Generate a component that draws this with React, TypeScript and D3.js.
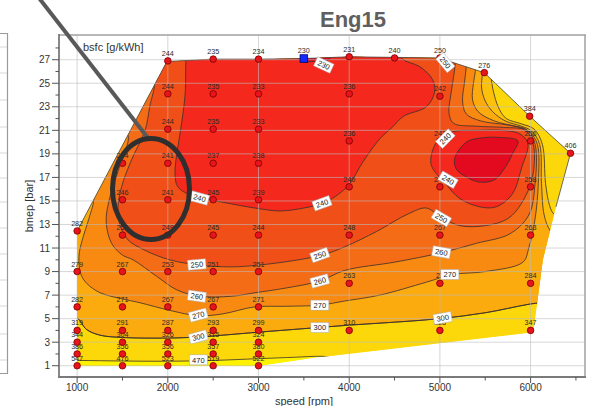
import React from "react";
import * as d3 from "d3";

type P = [number, number];

const W = 592;
const H = 406;

const xTicks = [1000, 2000, 3000, 4000, 5000, 6000];
const xMinorTicks = [1500, 2500, 3500, 4500, 5500, 6500];
const yTicks = [1, 3, 5, 7, 9, 11, 13, 15, 17, 19, 21, 23, 25, 27];
const yMinorTicks = [2, 4, 6, 8, 10, 12, 14, 16, 18, 20, 22, 24, 26, 28];

// operating envelope [speed rpm, bmep bar]
const envelope: P[] = [
  [1000, 0.95], [3000, 0.95], [3650, 1.7], [6030, 3.85], [6135, 10], [6280, 14.5], [6440, 19.05],
  [5990, 22.2], [5490, 25.9], [4990, 27.15], [4000, 27.25], [3500, 27.1], [3000, 27.05], [2500, 27.05],
  [1990, 26.85], [1000, 12.45],
];
const envelopeOutline: P[] = [
  [1000, 12.45], [1990, 26.85], [2500, 27.05], [3000, 27.05], [3500, 27.1], [4000, 27.25], [4990, 27.15],
  [5490, 25.9], [5990, 22.2], [6440, 19.05], [6280, 14.5],
];

// iso-bsfc regions (bsfc <= level)
const iso470: P[] = [
  [600, 1.45], [1000, 1.45], [1500, 1.4], [2000, 1.38], [2500, 1.45], [3000, 1.6], [3400, 1.72], [3700, 1.8],
  [4000, 1.6], [5000, 2.4], [6200, 3.4], [7000, 3.4], [7000, 30], [600, 30],
];
const iso300Lower: P[] = [
  [700, 5.4], [1000, 5.05], [1100, 4.1], [1250, 3.6], [1500, 3.4], [2000, 3.35], [2350, 3.45], [3000, 3.85],
  [3500, 4.15], [4000, 4.45], [4500, 4.7], [5000, 5.0], [5500, 5.5], [6000, 6.25], [6400, 6.7], [6600, 9],
];
const iso300Upper: P[] = [
  [6600, 13.0], [6350, 13.5], [6255, 13.9], [6210, 14.6], [6165, 16.5], [6130, 19.8], [6040, 21.1],
  [5900, 21.55], [5732, 22.0], [5658, 22.75], [5603, 23.9], [5567, 25.3], [5560, 27], [5450, 31], [700, 31],
];
const iso280Upper: P[] = [
  [6600, 11.8], [6300, 12.0], [6215, 12.5], [6150, 13.8], [6120, 16.5], [6100, 19.8], [6010, 20.95],
  [5900, 21.35], [5720, 21.8], [5580, 22.6], [5500, 23.5], [5460, 24.6], [5470, 25.95], [5480, 28.5],
  [5400, 31], [700, 31],
];
const iso270: P[] = [
  [1000, 31], [900, 20], [1100, 16.2], [1180, 15.3], [1130, 13.5], [1060, 11.8], [1020, 10.3], [1040, 8.8],
  [1106, 8.0], [1253, 7.2], [1547, 6.6], [1694, 6.35], [2024, 5.7], [2335, 5.25], [2600, 5.4], [2960, 6.0],
  [3300, 6.05], [3676, 6.15], [3951, 6.5], [4337, 7.0], [4851, 8.1], [5141, 8.75], [5500, 9.0], [5916, 9.8],
  [5980, 11.0], [6050, 13.5], [6085, 16.5], [6075, 19.8], [5990, 20.85], [5850, 21.3], [5600, 21.8],
  [5420, 22.6], [5360, 23.6], [5370, 25.0], [5390, 26.0], [5400, 28.5], [5300, 31],
];
const iso260: P[] = [
  [1450, 31], [1450, 21], [1560, 20.6], [1450, 17.5], [1360, 15.3], [1320, 13.2], [1380, 11.4], [1500, 10.4],
  [1617, 10.0], [1877, 8.6], [2098, 7.45], [2355, 6.9], [2700, 6.9], [2960, 7.2], [3300, 7.6], [3676, 8.2],
  [3951, 9.1], [4500, 9.8], [5016, 10.6], [5402, 11.4], [5770, 12.2], [5980, 13.8], [6050, 16.5],
  [6050, 19.8], [5960, 21.05], [5750, 21.45], [5450, 21.8], [5290, 22.4], [5250, 23.5], [5270, 25.0],
  [5290, 26.4], [5300, 28.5], [5200, 31],
];
const iso250: P[] = [
  [1700, 31], [1750, 26.5], [1850, 25.2], [1800, 23], [1749, 21], [1600, 18.5], [1490, 16.2], [1450, 14.5],
  [1470, 13.0], [1560, 11.7], [1750, 10.8], [2020, 10.0], [2350, 9.55], [2700, 9.4], [3000, 9.55],
  [3400, 9.95], [3700, 10.4], [3950, 11.1], [4300, 12.4], [4650, 13.9], [4850, 14.4], [5016, 13.6],
  [5220, 12.9], [5500, 12.9], [5750, 13.5], [5900, 14.8], [6020, 17.0], [6030, 19.8], [5940, 21.0],
  [5700, 21.25], [5400, 21.35], [5150, 21.6], [5100, 22.5], [5120, 24], [5150, 25.5], [5170, 26.7],
  [5180, 28.5], [5000, 31],
];
const iso240Main: P[] = [
  [2220, 31], [2220, 28.5], [2200, 27.0], [2190, 24], [2140, 21], [2090, 18.5], [2080, 17.2], [2110, 16.2],
  [2280, 15.4], [2600, 14.9], [3000, 14.35], [3240, 14.15], [3500, 14.4], [3710, 14.8], [3850, 15.4],
  [4000, 16.4], [4150, 18.3], [4340, 20.3], [4480, 21.3], [4600, 22.2], [4850, 23.0], [4940, 24.2],
  [4920, 25.3], [4780, 26.4], [4580, 27.1], [4500, 28.5], [4500, 31],
];
const iso240Island: P[] = [
  [4900, 18.2], [4990, 20.3], [5150, 20.9], [5400, 21.0], [5700, 21.0], [5880, 20.7], [5970, 19.9],
  [5900, 17.8], [5800, 15.6], [5620, 14.5], [5440, 14.5], [5220, 15.2], [5070, 16.4],
];
const iso230Island: P[] = [
  [5163, 18.6], [5291, 20.0], [5450, 20.35], [5650, 20.4], [5860, 20.1], [5800, 19.0], [5732, 18.0],
  [5600, 16.8], [5438, 16.6], [5300, 17.0], [5182, 17.7],
];
const iso230Top: P[] = [[3350, 29], [3450, 27.0], [3600, 26.85], [3780, 27.05], [3900, 29]];

const regions: P[][] = [
  iso470,
  [...iso300Lower, ...iso300Upper],
  [...iso300Lower, ...iso280Upper],
  iso270, iso260, iso250, iso240Main, iso240Island, iso230Island, iso230Top,
];
const regionColors = [
  "#fcd70a", "#fdc10c", "#fbab0e", "#f88a12", "#f56c16", "#f14f18", "#f4281c", "#f4281c", "#e30a1f", "#e30a1f",
];
const baseColor = "#fff200";

// contour labels: text, speed, bmep
const contourLabels: [string, number, number][] = [
  ["230", 3720, 26.55], ["250", 5060, 26.75], ["240", 2350, 15.25], ["240", 3700, 14.8],
  ["240", 5060, 20.3], ["240", 5090, 16.8], ["250", 2320, 9.6], ["250", 3676, 10.4], ["250", 5016, 13.55],
  ["260", 2320, 6.9], ["260", 3676, 8.2], ["260", 5016, 10.65], ["270", 2336, 5.3], ["270", 3676, 6.15],
  ["270", 5110, 8.75], ["300", 2336, 3.45], ["300", 3676, 4.25], ["300", 5030, 5.05], ["470", 2336, 1.5],
];
const contourLabelAngles = [25, 50, 15, -20, -45, 30, -5, -20, 30, 8, -15, 10, -15, 0, 0, -15, 0, -10, 0];

// measured operating points: speed, bmep, bsfc
const opPoints: [number, number, string][] = [
  [1000, 1, "547"], [1000, 2, "386"], [1000, 3, "344"], [1000, 4, "319"], [1000, 6, "282"], [1000, 9, "279"], [1000, 12.45, "282"],
  [1500, 1, "476"], [1500, 2, "356"], [1500, 3, "304"], [1500, 4, "291"], [1500, 6, "271"], [1500, 9, "267"], [1500, 12.1, "254"], [1500, 15.1, "246"], [1500, 18.2, "244"],
  [2000, 1, "523"], [2000, 2, "356"], [2000, 3, "326"], [2000, 4, "287"], [2000, 6, "267"], [2000, 9, "253"], [2000, 12.1, "249"], [2000, 15.1, "241"], [2000, 18.2, "241"], [2000, 21.1, "244"], [2000, 24.1, "244"], [2000, 26.9, "244"],
  [2500, 1, "519"], [2500, 2, "357"], [2500, 3, "315"], [2500, 4, "293"], [2500, 6, "267"], [2500, 9, "251"], [2500, 12.1, "245"], [2500, 15.1, "245"], [2500, 18.2, "237"], [2500, 21.1, "235"], [2500, 24.1, "235"], [2500, 27.05, "235"],
  [3000, 1, "522"], [3000, 2, "380"], [3000, 3, "324"], [3000, 4, "299"], [3000, 6, "271"], [3000, 9, "251"], [3000, 12.1, "244"], [3000, 15.1, "239"], [3000, 18.2, "238"], [3000, 21.1, "233"], [3000, 24.1, "233"], [3000, 27.05, "234"],
  [4000, 4, "310"], [4000, 8, "263"], [4000, 12.1, "248"], [4000, 16.2, "240"], [4000, 20.1, "236"], [4000, 24.1, "236"], [4000, 27.25, "231"],
  [4500, 27.15, "240"],
  [5000, 4, "328"], [5000, 8, "27"], [5000, 12.1, "267"], [5000, 16.2, "245"], [5000, 20.1, "243"], [5000, 23.9, "242"], [5000, 27.15, "250"],
  [5490, 25.9, "276"],
  [6000, 4, "347"], [6000, 8, "284"], [6000, 12.1, "263"], [6000, 16.2, "258"], [6000, 20.1, "256"], [5990, 22.2, "384"],
  [6440, 19.05, "406"],
];
const bestPoint: [number, number, string] = [3500, 27.1, "230"];

const leftPanelGrid = [47, 73, 100, 127, 153, 178, 202, 228, 254, 280, 306, 334, 360];

const FONT = "'Liberation Sans', Arial, Helvetica, sans-serif";

export default function App() {
  const x = d3.scaleLinear().domain([800, 6600]).range([59, 585]);
  const y = d3.scaleLinear().domain([0, 29.1]).range([377.5, 35]);

  const ringGen = d3
    .line<P>()
    .x((d) => x(d[0]))
    .y((d) => y(d[1]))
    .curve(d3.curveCatmullRomClosed.alpha(0.5));
  const polyGen = d3
    .line<P>()
    .x((d) => x(d[0]))
    .y((d) => y(d[1]));

  const envPath = polyGen(envelope) + "Z";

  return (
    <svg
      width={W}
      height={H}
      viewBox={`0 0 ${W} ${H}`}
      style={{ position: "absolute", left: 0, top: 0, display: "block", background: "#fff" }}
      fontFamily={FONT}
    >
      <defs>
        <clipPath id="env">
          <path d={envPath} />
        </clipPath>
      </defs>

      {/* neighbouring panel fragment */}
      <g>
        {leftPanelGrid.map((g) => (
          <line key={g} x1={0} x2={7} y1={g} y2={g} stroke="#d8d8d8" strokeWidth={1} />
        ))}
        <path d="M0,33.5 H7.5 V373.5 H0" fill="none" stroke="#9a9a9a" strokeWidth={1.2} />
      </g>

      {/* contour fills */}
      <g clipPath="url(#env)">
        <path d={envPath} fill={baseColor} />
        {regions.map((r, i) => (
          <path key={i} d={ringGen(r) || ""} fill={regionColors[i]} stroke="none" />
        ))}
        {regions.map((r, i) => (
          <path key={"s" + i} d={ringGen(r) || ""} fill="none" stroke="#3a3030" strokeWidth={0.8} />
        ))}
      </g>
      <path d={polyGen(envelopeOutline) || ""} fill="none" stroke="#4a4a4a" strokeWidth={0.8} />

      {/* grid */}
      <g stroke="#bdbdbd" strokeOpacity={0.6} strokeWidth={1}>
        {xTicks.map((t) => (
          <line key={t} x1={x(t)} x2={x(t)} y1={35} y2={377} />
        ))}
        {yTicks.map((t) => (
          <line key={t} x1={59} x2={585} y1={y(t)} y2={y(t)} />
        ))}
      </g>

      {/* frame & axes */}
      <line x1={59} x2={586} y1={35} y2={35} stroke="#a0a0a0" strokeWidth={1.5} />
      <line x1={585} x2={585} y1={35} y2={377} stroke="#a0a0a0" strokeWidth={1.5} />
      <line x1={59} x2={59} y1={34} y2={378} stroke="#7a7a7a" strokeWidth={1.8} />
      <line x1={58} x2={586} y1={377} y2={377} stroke="#7a7a7a" strokeWidth={1.8} />
      <g stroke="#555" strokeWidth={1}>
        {yTicks.map((t) => (
          <line key={t} x1={52} x2={59} y1={y(t)} y2={y(t)} />
        ))}
        {yMinorTicks.map((t) => (
          <line key={"m" + t} x1={55.5} x2={59} y1={y(t)} y2={y(t)} />
        ))}
        {xTicks.map((t) => (
          <line key={t} x1={x(t)} x2={x(t)} y1={377} y2={383} />
        ))}
        {xMinorTicks.map((t) => (
          <line key={"m" + t} x1={x(t)} x2={x(t)} y1={377} y2={380.5} />
        ))}
      </g>
      <g fontSize={10} fill="#333">
        {yTicks.map((t) => (
          <text key={t} x={50} y={y(t)} dy="0.35em" textAnchor="end">
            {t}
          </text>
        ))}
        {xTicks.map((t) => (
          <text key={t} x={x(t)} y={391} textAnchor="middle">
            {t}
          </text>
        ))}
      </g>

      {/* operating points */}
      <g>
        {opPoints.map(([s, b, v], i) => (
          <g key={i}>
            <circle cx={x(s)} cy={y(b)} r={3.3} fill="#e8141c" stroke="#7a0000" strokeWidth={0.8} />
            <text x={x(s)} y={y(b) - 5} textAnchor="middle" fontSize={7.2} fill="#2a2a2a">
              {v}
            </text>
          </g>
        ))}
        <rect
          x={x(bestPoint[0]) - 3.8}
          y={y(bestPoint[1]) - 3.8}
          width={7.6}
          height={7.6}
          fill="#1428ff"
          stroke="#000070"
          strokeWidth={0.8}
        />
        <text x={x(bestPoint[0])} y={y(bestPoint[1]) - 6} textAnchor="middle" fontSize={7.2} fill="#2a2a2a">
          {bestPoint[2]}
        </text>
      </g>

      {/* contour labels */}
      <g fontSize={7.5} fill="#222">
        {contourLabels.map(([txt, s, b], i) => (
          <g key={i} transform={`translate(${x(s)},${y(b)}) rotate(${contourLabelAngles[i]})`}>
            <rect x={-9} y={-5} width={18} height={10} fill="#fff" stroke="#aaa" strokeWidth={0.5} />
            <text y={2.7} textAnchor="middle">
              {txt}
            </text>
          </g>
        ))}
      </g>

      {/* texts */}
      <text x={83} y={51} fontSize={11} fill="#333">
        bsfc [g/kWh]
      </text>
      <text transform="translate(33,206) rotate(-90)" textAnchor="middle" fontSize={11} fill="#333">
        bmep [bar]
      </text>
      <text x={304} y={405} textAnchor="middle" fontSize={11} fill="#333">
        speed [rpm]
      </text>
      <text x={353} y={27} textAnchor="middle" fontSize={22} fontWeight="bold" fill="#5f5f5f">
        Eng15
      </text>

      {/* annotation */}
      <line x1={39} y1={-2} x2={148} y2={138} stroke="#595959" strokeWidth={4} />
      <ellipse cx={151} cy={189} rx={38.5} ry={50.5} fill="none" stroke="#2f2f2f" strokeWidth={5} />
    </svg>
  );
}
